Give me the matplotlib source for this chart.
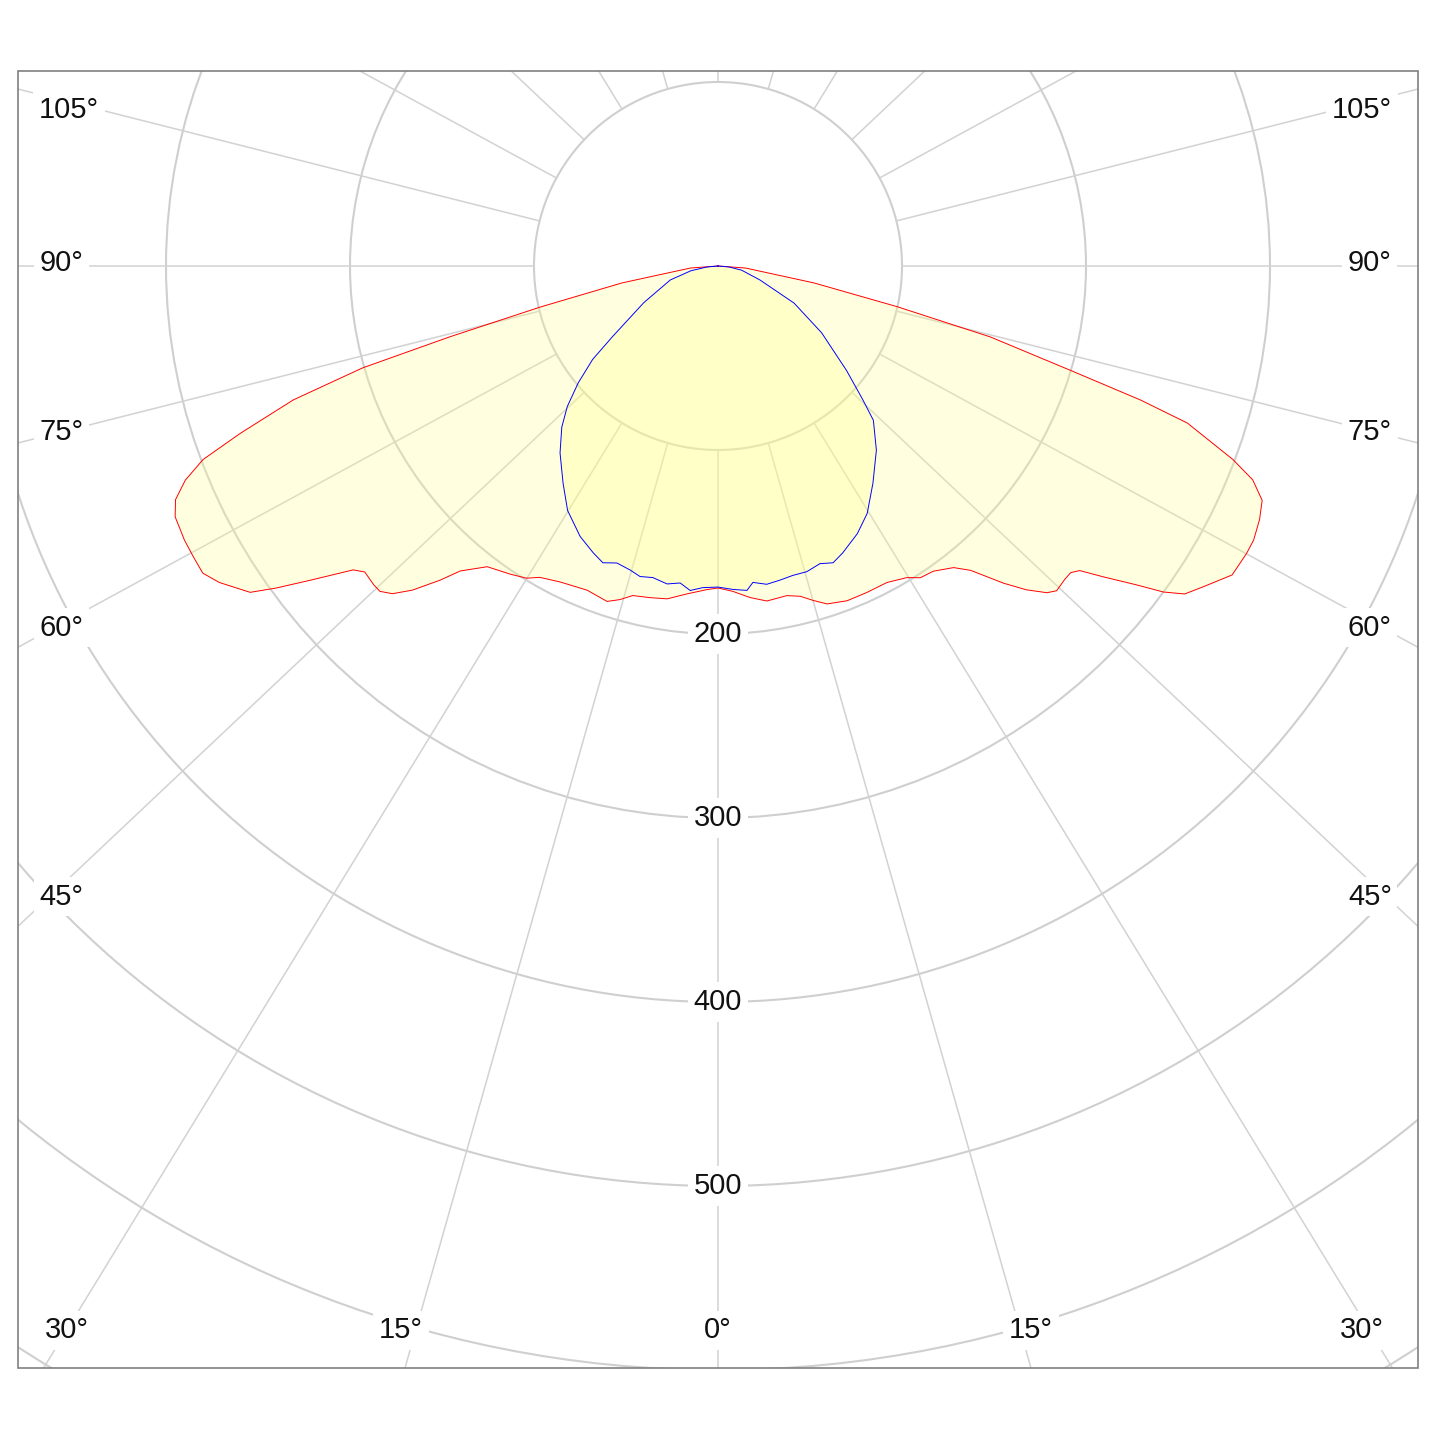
import numpy as np
import matplotlib
matplotlib.use('Agg')
from matplotlib import pyplot as plt
from matplotlib.patches import Circle, Rectangle

# luminous intensity curves (cd), angle from nadir in degrees, negative = left half
red_angle = [-90, -85.8, -80, -77, -75.2, -74, -72.5, -70.7, -69.4, -68.1, -66.7, -65.2,
             -62.8, -61, -59.2, -57.6, -55.1, -53.9, -52.4, -50.2, -49.1, -47.2, -46.1,
             -44.8, -43.3, -41.5, -40.2, -37.5, -34, -31.5, -29.8, -26.6, -22, -18.3,
             -16.4, -14.5, -11.6, -8.7, -5.4, -2, 0,
             2.6, 5.5, 8.3, 11.8, 14, 15.9, 17.9, 21.1, 24.5, 28.1, 31.2, 33, 35.2, 38,
             39.7, 42, 43.6, 45.2, 46.2, 47.9, 49, 49.9, 51.1, 52.7, 53.8, 54.9, 56.5, 59,
             61.5, 62.9, 64.9, 66.7, 68.2, 69.4, 71.5, 72.4, 73.5, 75.4, 77.2, 80, 85.8, 90]
red_cd = [0, 15, 53, 99, 151, 201, 242, 275, 299, 312, 321, 325,
          326, 326, 326, 321, 310, 297, 280, 258, 254, 255, 255,
          251, 242, 228, 217, 206, 202, 199, 195, 192, 190, 192,
          189, 185, 184, 183, 179, 176, 175,
          177, 181, 184, 183, 185, 189, 193, 195, 195, 195, 198, 202, 203, 208,
          215, 232, 243, 252, 255, 254, 254, 257, 269, 286, 300, 310, 316, 326,
          327, 327, 325, 322, 313, 299, 269, 241, 200, 153, 100, 53, 15, 0]

blue_angle = [-90, -85, -80, -73.7, -63.7, -56.2, -53.3, -50.1, -47, -44.1, -40.2, -35.5,
              -31.6, -27, -23.5, -21.2, -18.8, -16.1, -14.1, -11.8, -9.1, -6.8, -4.9,
              -2.7, 0, 2.7, 5.1, 6.3, 8.7, 11.2, 13.6, 16.2, 18.9, 21.2, 23.5, 27.5,
              31.1, 35.5, 40.7, 45.2, 47.3, 50.9, 57.2, 64, 71.6, 80, 85, 90]
blue_cd = [0, 6, 15, 27, 45, 69, 85, 99, 112, 122, 133, 145,
           156, 165, 170, 173, 170.5, 172, 174, 173, 175, 173.5, 177,
           175, 174.5, 176, 177, 173, 175, 174, 173, 173, 171, 173, 170, 164,
           157, 145, 132, 119, 107, 90, 67, 46, 24, 13, 6, 0]

ring_values = [100, 200, 300, 400, 500, 600, 700]
ring_labels = [200, 300, 400, 500]
spoke_angles = np.arange(0, 360, 15)

angle_labels = [
    ('105°', -352.7, 84.8), ('90°', -357.0, 1.6), ('75°', -357.0, -90.2),
    ('60°', -357.0, -196.7), ('45°', -357.0, -342.9), ('30°', -353.8, -578.3),
    ('105°', 350.0, 84.8), ('90°', 354.3, 1.6), ('75°', 354.3, -90.2),
    ('60°', 354.3, -196.7), ('45°', 354.3, -342.9), ('30°', 350.0, -578.3),
    ('15°', -172.3, -578.3), ('0°', 0.0, -578.3), ('15°', 170.1, -578.3),
]

frame_x = (-380.4, 380.4)
frame_y = (-598.9, 106.0)
spoke_stretch = 1.06

plt.rcParams['font.family'] = ['Liberation Sans', 'DejaVu Sans']

fig = plt.figure(figsize=(14.45, 14.45), dpi=100)
ax = fig.add_axes([0, 0, 1, 1])
ax.set_xlim(-718 / 1.84, (1445 - 718) / 1.84)
ax.set_ylim((266 - 1445) / 1.84, 266 / 1.84)
ax.axis('off')

frame = Rectangle((frame_x[0], frame_y[0]), frame_x[1] - frame_x[0], frame_y[1] - frame_y[0],
                  fill=False, edgecolor='#808080', linewidth=1.2, zorder=6)
ax.add_patch(frame)
clip = Rectangle((frame_x[0], frame_y[0]), frame_x[1] - frame_x[0], frame_y[1] - frame_y[0],
                 transform=ax.transData, visible=False)
ax.add_patch(clip)

# rings
for r in ring_values:
    c = Circle((0, 0), r, fill=False, edgecolor='#cfcfcf', linewidth=1.5, zorder=1)
    ax.add_patch(c)
    c.set_clip_path(clip)

# spokes, starting at the 100 ring
for a in spoke_angles:
    t = np.radians(a)
    dx, dy = spoke_stretch * np.sin(t), -np.cos(t)
    n = np.hypot(dx, dy)
    dx, dy = dx / n, dy / n
    ln, = ax.plot([100 * dx, 1200 * dx], [100 * dy, 1200 * dy],
                  color='#d2d2d2', linewidth=1.1, zorder=1)
    ln.set_clip_path(clip)

# intensity curves
for ang, cd, col in [(red_angle, red_cd, 'red'), (blue_angle, blue_cd, 'blue')]:
    t = np.radians(ang)
    x = np.array(cd) * np.sin(t)
    y = -np.array(cd) * np.cos(t)
    ax.fill(x, y, color=(1.0, 1.0, 0.55), alpha=0.28, linewidth=0, zorder=2)
    ax.plot(x, y, color=col, linewidth=0.7, zorder=3)

box = dict(facecolor='white', edgecolor='none', pad=4)
for v in ring_labels:
    ax.text(0, -v, str(v), fontsize=21, ha='center', va='center',
            color='#111111', bbox=box, zorder=5)
for txt, x, y in angle_labels:
    ax.text(x, y, txt, fontsize=21, ha='center', va='center',
            color='#111111', bbox=box, zorder=5)

fig.savefig('out.png', dpi=100, facecolor='white')
